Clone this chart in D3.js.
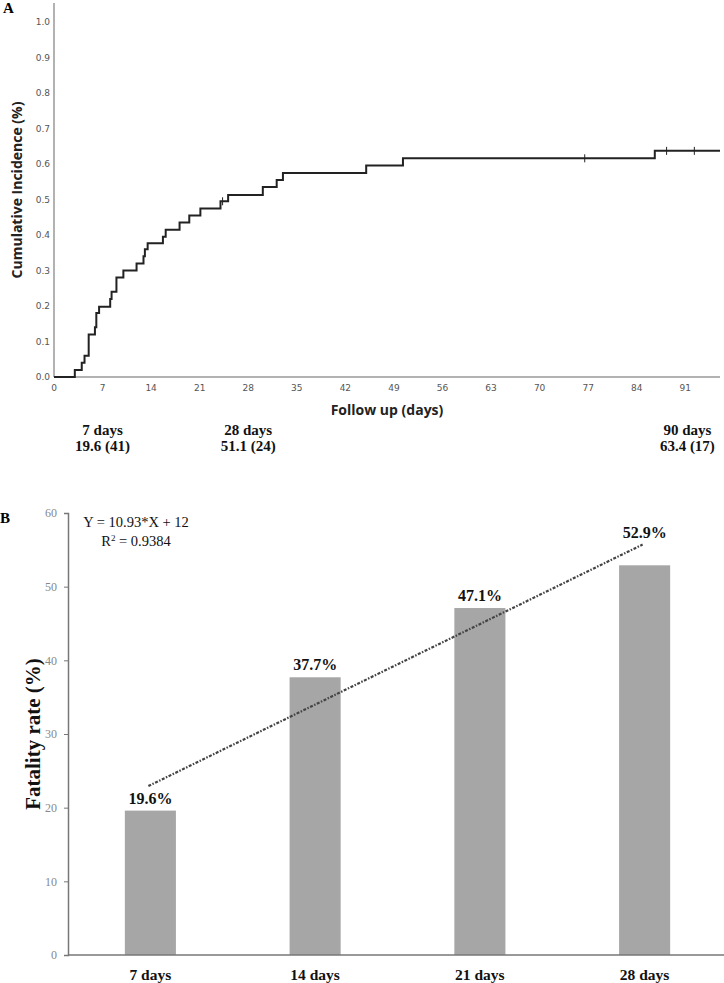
<!DOCTYPE html>
<html>
<head>
<meta charset="utf-8">
<script src="https://cdn.jsdelivr.net/npm/d3@7"></script>
<style>
  body { margin: 0; background: #fff; }
  svg { display: block; }
</style>
</head>
<body>
<div id="chart"></div>
<script>
// Panel A: cumulative incidence steps (day, value)
const stepDays = [0, 3, 4, 4.4, 5, 5.9, 6.1, 6.5, 8.1, 8.3, 9, 10, 11.9, 12.9, 13.1, 13.5,
  15.7, 16.1, 18.1, 19.5, 21.1, 24, 25.1, 30.1, 32.1, 33, 45, 50.3, 86.6];
const stepValues = [0, 0.02, 0.04, 0.06, 0.12, 0.14, 0.18, 0.198, 0.22, 0.24, 0.28, 0.30, 0.32, 0.34, 0.36, 0.377,
  0.395, 0.415, 0.435, 0.455, 0.475, 0.495, 0.513, 0.535, 0.555, 0.575, 0.596, 0.616, 0.637];
const lastDay = 96;
const censorDays = [24.3, 76.5, 88.3, 92.3];
const xTicksA = [0, 7, 14, 21, 28, 35, 42, 49, 56, 63, 70, 77, 84, 91];
const yTicksA = [0, 0.1, 0.2, 0.3, 0.4, 0.5, 0.6, 0.7, 0.8, 0.9, 1.0];
const milestoneDays = [7, 28, 90];
const milestoneNames = ["7 days", "28 days", "90 days"];
const milestoneValues = ["19.6 (41)", "51.1 (24)", "63.4 (17)"];

// Panel B: fatality rate by time point
const periods = ["7 days", "14 days", "21 days", "28 days"];
const fatality = [19.6, 37.7, 47.1, 52.9];
const yTicksB = [0, 10, 20, 30, 40, 50, 60];
const slope = 10.93, intercept = 12;

const svg = d3.select("#chart").append("svg")
  .attr("width", 724)
  .attr("height", 983);

// ---------- Panel A ----------
const xA = d3.scaleLinear().domain([0, lastDay]).range([54, 720]);
const yA = d3.scaleLinear().domain([0, 1]).range([377, 22]);
const sans = "'Open Sans', sans-serif";
const serif = "'Liberation Serif', serif";

svg.append("text").attr("x", 3).attr("y", 13)
  .attr("font-family", serif).attr("font-weight", "bold").attr("font-size", 15)
  .text("A");

// axes lines
svg.append("line").attr("x1", xA(0)).attr("x2", xA(0)).attr("y1", 3).attr("y2", yA(0))
  .attr("stroke", "#999").attr("stroke-width", 1.5);
svg.append("line").attr("x1", xA(0)).attr("x2", xA(lastDay)).attr("y1", yA(0)).attr("y2", yA(0))
  .attr("stroke", "#999").attr("stroke-width", 1.5);

svg.append("g").selectAll("text").data(yTicksA).enter().append("text")
  .attr("x", xA(0) - 4).attr("y", d => yA(d)).attr("dy", "0.35em")
  .attr("text-anchor", "end")
  .attr("font-family", "'DejaVu Sans', sans-serif").attr("font-size", 9).attr("fill", "#555")
  .text(d => d.toFixed(1));

svg.append("g").selectAll("text").data(xTicksA).enter().append("text")
  .attr("x", d => xA(d)).attr("y", yA(0) + 14)
  .attr("text-anchor", "middle")
  .attr("font-family", "'DejaVu Sans', sans-serif").attr("font-size", 9).attr("fill", "#555")
  .text(d => d);

svg.append("text")
  .attr("transform", `translate(22, ${(3 + yA(0)) / 2}) rotate(-90)`)
  .attr("text-anchor", "middle")
  .attr("font-family", sans).attr("font-weight", "bold").attr("font-size", 14).attr("fill", "#222")
  .text("Cumulative Incidence (%)");

svg.append("text")
  .attr("x", (xA(0) + xA(lastDay)) / 2).attr("y", 415)
  .attr("text-anchor", "middle")
  .attr("font-family", sans).attr("font-weight", "bold").attr("font-size", 14).attr("fill", "#222")
  .text("Follow up (days)");

// step curve
const pts = stepDays.map((d, i) => [d, stepValues[i]]);
pts.push([lastDay, stepValues[stepValues.length - 1]]);
const stepLine = d3.line()
  .x(d => xA(d[0]))
  .y(d => yA(d[1]))
  .curve(d3.curveStepAfter);
svg.append("path").datum(pts)
  .attr("d", stepLine)
  .attr("fill", "none").attr("stroke", "#222").attr("stroke-width", 2);

// censor marks
const valueAt = t => stepValues[d3.bisectRight(stepDays, t) - 1];
svg.append("g").selectAll("line").data(censorDays).enter().append("line")
  .attr("x1", d => xA(d)).attr("x2", d => xA(d))
  .attr("y1", d => yA(valueAt(d)) - 4).attr("y2", d => yA(valueAt(d)) + 4)
  .attr("stroke", "#222").attr("stroke-width", 1);

// milestone labels
const ms = svg.append("g").selectAll("g").data(milestoneDays).enter().append("g")
  .attr("transform", (d, i) => `translate(${xA(d) + (i === 2 ? 9 : 0)}, 0)`);
ms.append("text").attr("y", 435).attr("text-anchor", "middle")
  .attr("font-family", serif).attr("font-weight", "bold").attr("font-size", 15).attr("fill", "#111")
  .text((d, i) => milestoneNames[i]);
ms.append("text").attr("y", 451).attr("text-anchor", "middle")
  .attr("font-family", serif).attr("font-weight", "bold").attr("font-size", 15).attr("fill", "#111")
  .text((d, i) => milestoneValues[i]);

// ---------- Panel B ----------
const xB = d3.scaleBand().domain(periods).range([68, 727]).paddingInner(0.69).paddingOuter(0.345);
const yB = d3.scaleLinear().domain([0, 60]).range([955, 513]);

svg.append("text").attr("x", 0).attr("y", 523)
  .attr("font-family", serif).attr("font-weight", "bold").attr("font-size", 15)
  .text("B");

svg.append("g").selectAll("rect").data(fatality).enter().append("rect")
  .attr("x", (d, i) => xB(periods[i]))
  .attr("y", d => yB(d))
  .attr("width", xB.bandwidth())
  .attr("height", d => yB(0) - yB(d))
  .attr("fill", "#a6a6a6");

const yAxisB = svg.append("g")
  .attr("transform", "translate(68,0)")
  .call(d3.axisLeft(yB).tickValues(yTicksB).tickSize(4).tickPadding(7));
yAxisB.select(".domain").attr("stroke", "#777").attr("stroke-width", 1.5);
yAxisB.selectAll(".tick line").attr("stroke", "#777");
yAxisB.selectAll(".tick text")
  .attr("font-family", serif).attr("font-size", 12).attr("fill", "#888");

svg.append("line").attr("x1", 68).attr("x2", 724).attr("y1", yB(0)).attr("y2", yB(0))
  .attr("stroke", "#777").attr("stroke-width", 1.5);

svg.append("g").selectAll("text").data(periods).enter().append("text")
  .attr("x", d => xB(d) + xB.bandwidth() / 2).attr("y", 980)
  .attr("text-anchor", "middle")
  .attr("font-family", serif).attr("font-weight", "bold").attr("font-size", 15.5).attr("fill", "#111")
  .text(d => d);

svg.append("text")
  .attr("transform", `translate(40, ${(yB(0) + yB(60)) / 2}) rotate(-90)`)
  .attr("text-anchor", "middle")
  .attr("font-family", serif).attr("font-weight", "bold").attr("font-size", 21).attr("fill", "#111")
  .text("Fatality rate (%)");

// trend line
const trend = periods.map((p, i) => [xB(p) + xB.bandwidth() / 2 - 2, slope * (i + 1) + intercept]);
svg.append("path").datum(trend)
  .attr("d", d3.line().x(d => d[0]).y(d => yB(d[1])))
  .attr("fill", "none").attr("stroke", "#444").attr("stroke-width", 2.2)
  .attr("stroke-dasharray", "3,1.5,1.5,1.5");

// value labels: just above the bar, or above the trend line where it passes over the bar top at the end
svg.append("g").selectAll("text").data(fatality).enter().append("text")
  .attr("x", (d, i) => xB(periods[i]) + xB.bandwidth() / 2)
  .attr("y", (d, i) => i === fatality.length - 1 ? yB(trend[i][1]) - 7 : yB(d) - 7)
  .attr("text-anchor", "middle")
  .attr("font-family", serif).attr("font-weight", "bold").attr("font-size", 16).attr("fill", "#111")
  .text(d => d.toFixed(1) + "%");

// equation
const eq = svg.append("text")
  .attr("x", 136).attr("y", 527)
  .attr("text-anchor", "middle")
  .attr("font-family", serif).attr("font-size", 14.5).attr("fill", "#111");
eq.text("Y = 10.93*X + 12");
const r2 = svg.append("text")
  .attr("x", 136).attr("y", 546)
  .attr("text-anchor", "middle")
  .attr("font-family", serif).attr("font-size", 14.5).attr("fill", "#111");
r2.append("tspan").text("R");
r2.append("tspan").attr("font-size", 9).attr("dy", -5).text("2");
r2.append("tspan").attr("dy", 5).text(" = 0.9384");
</script>
</body>
</html>
